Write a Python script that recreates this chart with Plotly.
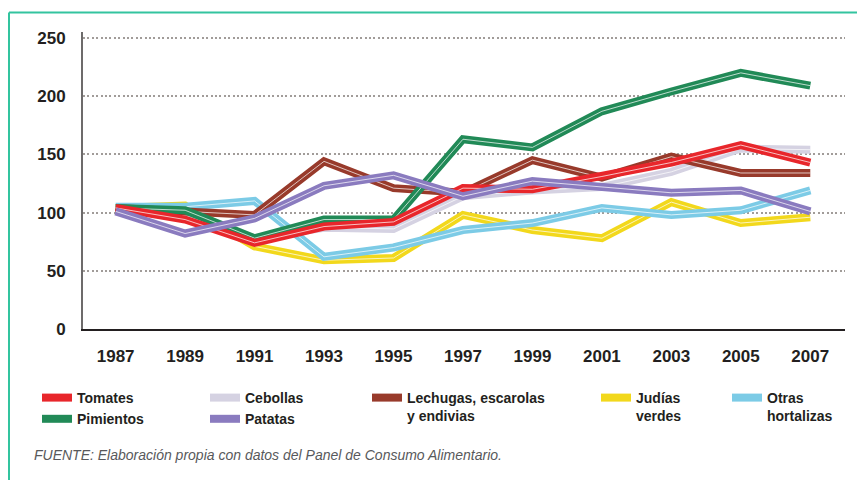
import plotly.graph_objects as go

# ---------------- data ----------------
years = [1987, 1989, 1991, 1993, 1995, 1997, 1999, 2001, 2003, 2005, 2007]
year_labels = [str(y) for y in years]
y_ticks = [0, 50, 100, 150, 200, 250]

tomates = [104, 94, 74, 88, 92, 121, 120, 131, 143, 158, 143]
pimientos = [104, 102, 78, 94, 94, 163, 156, 187, 204, 220, 209]
cebollas = [104, 97, 78, 87, 86, 114, 119, 122, 135, 155, 154]
patatas = [101, 82, 95, 123, 132, 114, 127, 122, 117, 119, 101]
lechugas = [104, 101, 98, 144, 121, 117, 145, 130, 148, 134, 134]
judias = [104, 106, 71, 59, 61, 98, 85, 78, 109, 91, 96]
otras = [105, 105, 110, 62, 70, 85, 91, 104, 98, 102, 119]

series_names = ["Tomates", "Pimientos", "Cebollas", "Patatas",
                "Lechugas, escarolas<br>y endivias", "Judías<br>verdes",
                "Otras<br>hortalizas"]
footnote = "FUENTE: Elaboración propia con datos del Panel de Consumo Alimentario."

# ---------------- layout constants ----------------
# the page body has an 8px default margin, so screen positions are offset by 8
OFF = 8
W, H = 865, 480
ML = 83 - OFF
MT = 32 - OFF
PW = 762
MR = W - ML - PW
MB = H - (329 - OFF)
PH = H - MT - MB


def px_x(p):
    """screen x pixel -> paper coordinate"""
    return (p - OFF - ML) / PW


def px_y(p):
    """screen y pixel -> paper coordinate"""
    return (H - MB - (p - OFF)) / PH


FONT = "Liberation Sans, Arial, Helvetica, sans-serif"
TXT = "#231f20"

# (values, name index, color, legend id, legend rank) in drawing order
draw = [
    (judias, 5, "#f2d81c", "legend4", 1),
    (otras, 6, "#7ccbe6", "legend5", 1),
    (cebollas, 2, "#d5d2e2", "legend2", 1),
    (lechugas, 4, "#983a2b", "legend3", 1),
    (pimientos, 1, "#218a57", "legend", 2),
    (tomates, 0, "#e8262b", "legend", 1),
    (patatas, 3, "#8a7bbf", "legend2", 2),
]

fig = go.Figure()
for vals, ni, col, leg, rank in draw:
    fig.add_trace(go.Scatter(
        x=years, y=vals, mode="lines", name=series_names[ni],
        line=dict(color=col, width=8), legend=leg, legendrank=rank,
        hoverinfo="x+y+name",
    ))
    fig.add_trace(go.Scatter(
        x=years, y=vals, mode="lines", showlegend=False,
        line=dict(color="rgba(255,255,255,0.7)", width=1),
        hoverinfo="skip",
    ))

leg_common = dict(
    orientation="v", xanchor="left", yanchor="top",
    font=dict(family=FONT, size=14, color=TXT, weight="bold"),
    bgcolor="rgba(0,0,0,0)", borderwidth=0, valign="top",
    tracegroupgap=0, itemclick=False, itemdoubleclick=False,
)
leg_top = px_y(382)
fig.update_layout(
    legend=dict(x=px_x(37), y=leg_top, **leg_common),
    legend2=dict(x=px_x(205), y=leg_top, **leg_common),
    legend3=dict(x=px_x(367), y=leg_top, **leg_common),
    legend4=dict(x=px_x(596), y=leg_top, **leg_common),
    legend5=dict(x=px_x(727), y=leg_top, **leg_common),
)

fig.update_layout(
    width=W, height=H,
    margin=dict(l=ML, r=MR, t=MT, b=MB, pad=0),
    paper_bgcolor="white", plot_bgcolor="white",
    font=dict(family=FONT, color=TXT),
    showlegend=True,
    xaxis=dict(
        range=[1986.06, 2008.0], tickmode="array", tickvals=years,
        ticktext=[f"<b>{t}</b>" for t in year_labels],
        tickfont=dict(size=17, color=TXT, family=FONT),
        showgrid=False, zeroline=False, showline=True,
        linecolor="#231f20", linewidth=1.5, ticks="", ticklabelstandoff=11,
        fixedrange=True,
    ),
    yaxis=dict(
        range=[0, 255.1], tickmode="array", tickvals=y_ticks,
        ticktext=[f"<b>{t}</b>" for t in y_ticks],
        tickfont=dict(size=17, color=TXT, family=FONT),
        showgrid=True, gridcolor="#a19c99", gridwidth=2, griddash="2px,2.4px",
        zeroline=False, showline=True, linecolor="#6d6b6b", linewidth=2,
        ticks="", ticklabelstandoff=12, fixedrange=True,
    ),
)

# green frame (top and left edge)
frame = "#33c49f"
fig.add_shape(type="line", xref="paper", yref="paper",
              x0=px_x(9), x1=px_x(W + 20), y0=px_y(12.5), y1=px_y(12.5),
              line=dict(color=frame, width=2))
fig.add_shape(type="line", xref="paper", yref="paper",
              x0=px_x(9), x1=px_x(9), y0=px_y(12.5), y1=px_y(H + 20),
              line=dict(color=frame, width=2))

fig.add_annotation(
    text=f"<i>{footnote}</i>", xref="paper", yref="paper",
    x=px_x(32), y=px_y(455), xanchor="left", yanchor="middle",
    showarrow=False, font=dict(family=FONT, size=14, color="#58595b"),
)

fig.write_html("out.html")
